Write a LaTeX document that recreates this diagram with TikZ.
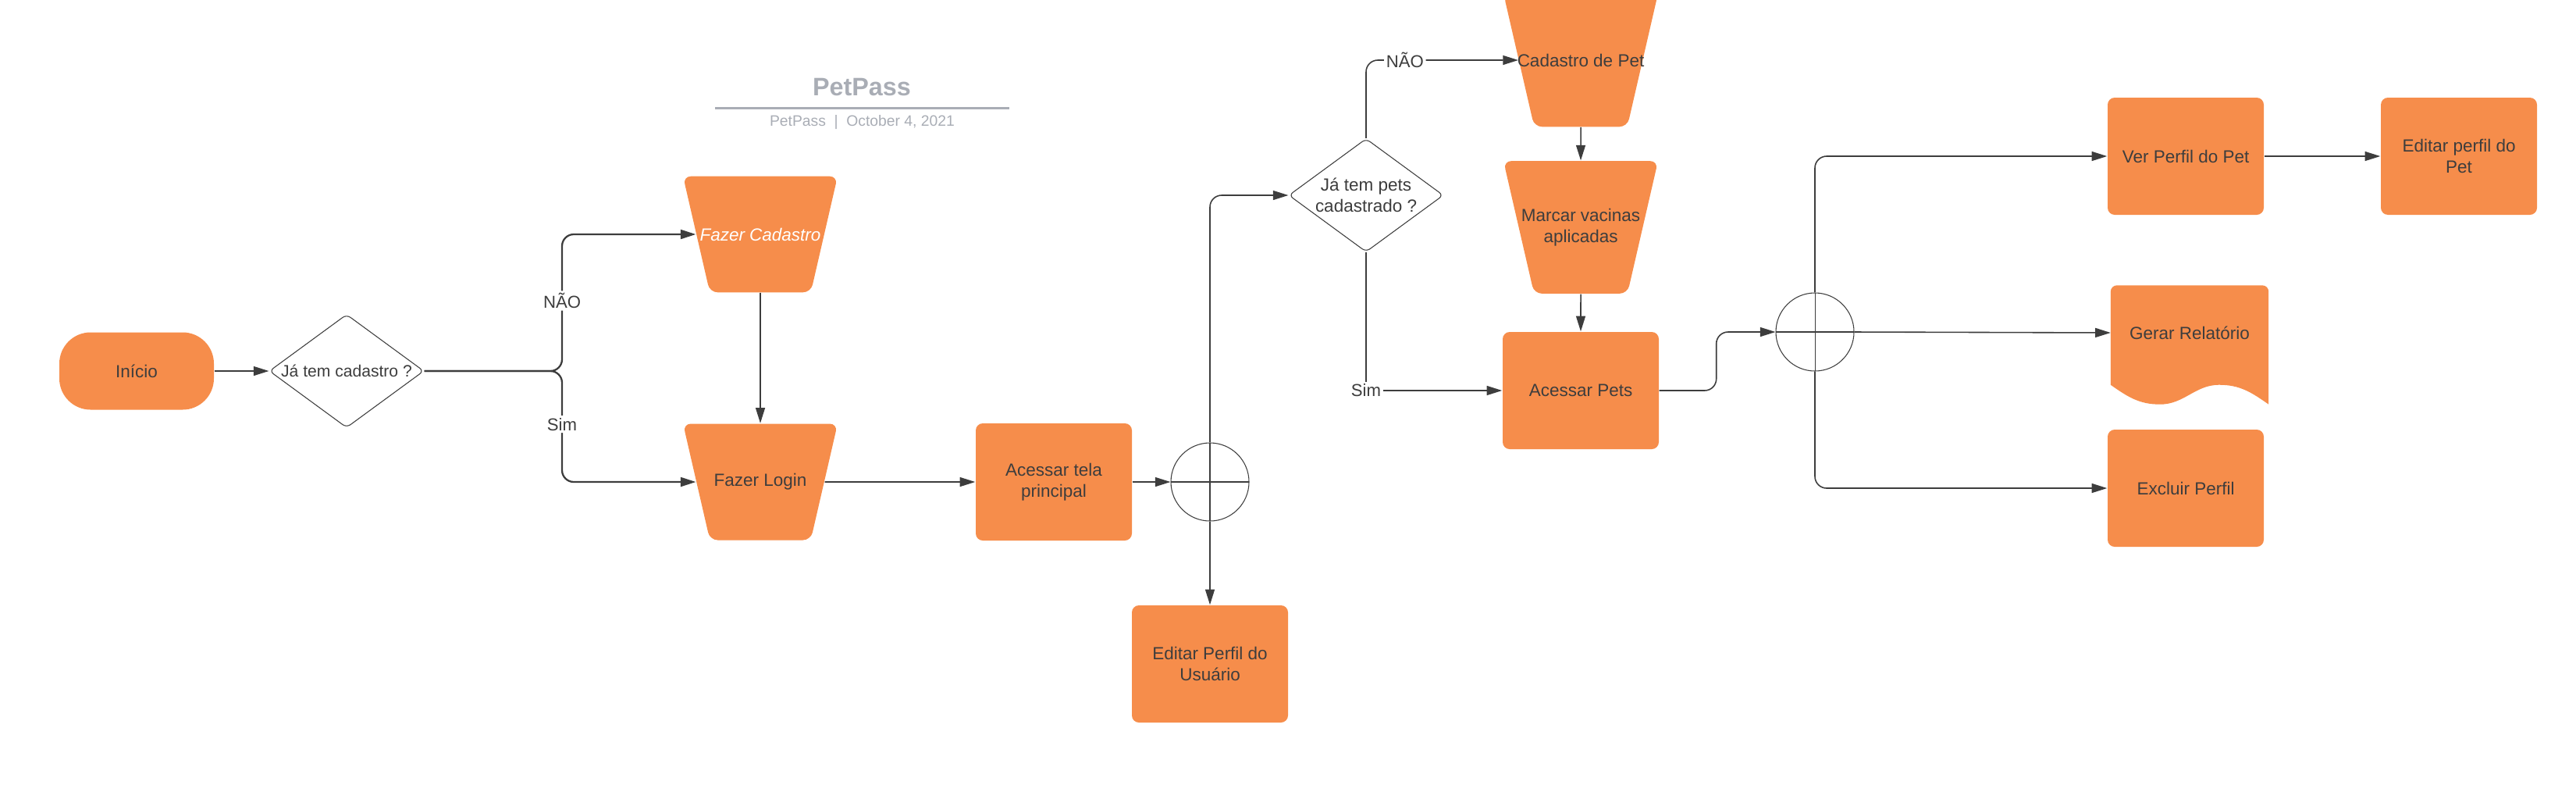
\documentclass[tikz,border=0pt]{standalone}
\usepackage{fontspec}
\setmainfont{Liberation Sans}
\usetikzlibrary{arrows.meta,shapes.geometric,backgrounds}
\definecolor{petorange}{HTML}{F68D4B}
\definecolor{inkgray}{HTML}{3D3D3D}
\definecolor{titlegray}{HTML}{A9ADB5}
\newlength{\BoxWidth}
\newlength{\BoxHeight}
\newlength{\JoinSize}
\setlength{\BoxWidth}{20mm}
\setlength{\BoxHeight}{15mm}
\setlength{\JoinSize}{10mm}
\tikzset{
  flow text/.style={font=\fontsize{6.4}{7.6}\selectfont, text=inkgray, align=center},
  start node/.style={flow text, fill=petorange, rectangle, rounded corners=4mm, minimum width=19.8mm, minimum height=9.9mm, inner sep=0pt},
  process box/.style={flow text, fill=petorange, rectangle, rounded corners=0.9mm, minimum width=\BoxWidth, minimum height=\BoxHeight, inner sep=0pt},
  manual box/.style={flow text, fill=petorange, trapezium, trapezium left angle=103, trapezium right angle=103, trapezium stretches body, minimum width=19.8mm, inner xsep=-2.5mm, inner ysep=6.6mm, rounded corners=1mm},
  doc box/.style={flow text, rectangle, minimum width=20.1mm, minimum height=12mm, inner sep=0pt},
  decision/.style={flow text, draw=inkgray, line width=0.3pt, fill=white, diamond, aspect=1.365, minimum width=19.8mm, minimum height=14.5mm, inner xsep=-1.6mm, inner ysep=0pt, rounded corners=0.6mm},
  junction/.style={circle, draw=inkgray, line width=0.3pt, minimum size=\JoinSize, inner sep=0pt,
    path picture={\draw[inkgray, line width=0.3pt] (path picture bounding box.west) -- (path picture bounding box.east) (path picture bounding box.north) -- (path picture bounding box.south);}},
  branch label/.style={font=\fontsize{6.3}{7.5}\selectfont, text=inkgray, fill=white, inner sep=0.8pt},
  flow/.style={draw=inkgray, line width=0.45pt, ->},
  thick flow/.style={flow, line width=0.65pt}
}

\begin{document}
\begin{tikzpicture}[>={Triangle[length=5.6pt,width=3.4pt]}]
  \useasboundingbox (0,0) rectangle (33,-10.04);

  % title block
  \node[font=\bfseries\fontsize{9.2}{11}\selectfont, text=titlegray] (title) at (11.04,-1.12) {PetPass};
  \node[fill=titlegray, minimum width=37.7mm, minimum height=0.85pt, inner sep=0pt] (rule) at (11.045,-1.38) {};
  \node[font=\fontsize{5.5}{6.5}\selectfont, text=titlegray] (sub) at (11.045,-1.57) {PetPass\hspace{0.55em}|\hspace{0.55em}October 4, 2021};

  % login part
  \node[start node] (ini) at (1.75,-4.75) {Início};
  \node[decision, font=\fontsize{6}{7.2}\selectfont] (d1) at (4.44,-4.75) {Já tem cadastro ?};
  \coordinate (br) at (7.20,-4.75);
  \node[manual box, text=white, font=\fontsize{6.4}{7.6}\selectfont\itshape] (fc) at (9.74,-3.00) {Fazer Cadastro};
  \node[manual box, inner ysep=6.4mm] (fl) at (9.74,-6.17) {Fazer Login};
  \node[process box] (at) at (13.50,-6.17) {Acessar tela\\principal};
  \node[junction] (j1) at (15.50,-6.17) {};
  \node[process box] (eu) at (15.50,-8.50) {Editar Perfil do\\Usuário};

  % pets part
  \node[decision] (d2) at (17.50,-2.50) {Já tem pets\\cadastrado ?};
  \node[manual box, inner ysep=7.7mm] (cp) at (20.25,-0.77) {Cadastro de Pet};
  \node[manual box, inner ysep=6.1mm] (mv) at (20.25,-2.91) {Marcar vacinas\\aplicadas};
  \node[process box] (ap) at (20.25,-5.00) {Acessar Pets};
  \node[junction] (j2) at (23.25,-4.25) {};
  \node[process box] (vp) at (28.00,-2.00) {Ver Perfil do Pet};
  \node[process box] (ep) at (31.50,-2.00) {Editar perfil do\\Pet};
  \node[doc box] (gr) at (28.05,-4.26) {Gerar Relatório};
  \node[process box] (ex) at (28.00,-6.25) {Excluir Perfil};

  \begin{scope}[on background layer]
    \fill[petorange, rounded corners=0.8mm] ([yshift=-0.6mm]gr.south west) -- (gr.north west) -- (gr.north east) [sharp corners] -- ([yshift=-3.1mm]gr.south east)
      to[out=145,in=0] ([xshift=3.8mm,yshift=-0.6mm]gr.south)
      to[out=180,in=0] ([xshift=-3.8mm,yshift=-3.1mm]gr.south)
      to[out=180,in=-35] ([yshift=-0.6mm]gr.south west) -- cycle;
  \end{scope}

  % connectors
  \draw[flow] (ini) -- (d1);
  \draw[thick flow, rounded corners=1.5mm] (d1.east) -- (br) |- (fc.west) node[branch label, pos=0.257] {NÃO};
  \draw[thick flow, rounded corners=1.5mm] (d1.east) -- (br) |- (fl.west) node[branch label, pos=0.24] {Sim};
  \draw[flow] (fc) -- (fl);
  \draw[flow] (fl) -- (at);
  \draw[flow] (at) -- (j1);
  \draw[flow, rounded corners=1.5mm] (j1.north) |- (d2.west);
  \draw[flow] (j1.south) -- (eu.north);
  \draw[flow, rounded corners=1.5mm] (d2.north) |- (cp.west) node[branch label, pos=0.628] {NÃO};
  \draw[flow] (d2.south) |- (ap.west) node[branch label, pos=0.5] {Sim};
  \draw[flow] (cp) -- (mv);
  \draw[flow] (mv) -- (ap);
  \draw[flow, rounded corners=1.5mm] (ap.east) -- ++(7.3mm,0) |- (j2.west);
  \draw[flow, rounded corners=1.5mm] (j2.north) |- (vp.west);
  \draw[flow] (j2.east) -- (gr.west);
  \draw[flow, rounded corners=1.5mm] (j2.south) |- (ex.west);
  \draw[flow] (vp) -- (ep);
\end{tikzpicture}
\end{document}
